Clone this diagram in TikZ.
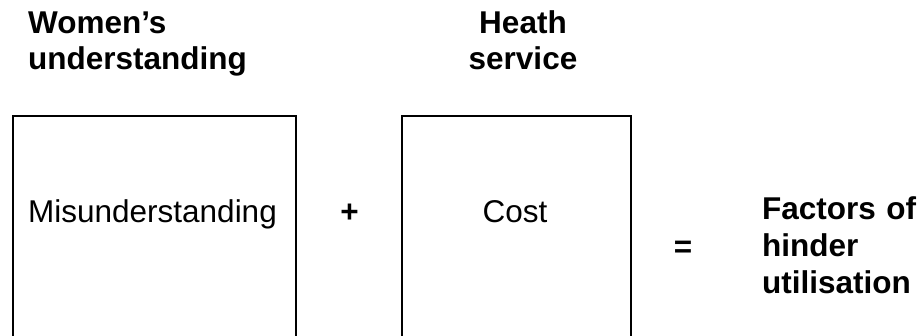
\documentclass[tikz,border=0pt]{standalone}
\usepackage{fontspec}
\setmainfont{Liberation Sans}
\begin{document}
\begin{tikzpicture}[x=1pt,y=-1pt,
  box/.style={draw=black,line width=2pt,inner sep=0pt,outer sep=0pt,rectangle},
  head/.style={font=\bfseries\fontsize{31.5}{36}\selectfont,inner sep=0pt,text width=#1},
  body/.style={font=\fontsize{31.5}{36}\selectfont,inner sep=0pt},
  sym/.style={font=\bfseries\fontsize{31.5}{36}\selectfont,inner sep=0pt}]
\clip (0,0) rectangle (919,335);
\useasboundingbox (0,0) rectangle (919,335);
% boxes
\node[box,minimum width=283pt,minimum height=264pt] (b1) at (154.5,248) {};
\node[box,minimum width=229pt,minimum height=264pt] (b2) at (516.5,248) {};
% headings
\node[head=250pt,align=left,anchor=base west] (h1) at (28,33) {Women’s\\understanding};
\node[head=200pt,align=center,anchor=base] (h2) at (523,33) {Heath\\service};
% box texts
\node[body,anchor=base] (t1) at (152.5,222) {Misunderstanding};
\node[body,anchor=base] (t2) at (515,222) {Cost};
% operators
\node[sym,anchor=base] (plus) at (349.5,222) {+};
\node[sym,anchor=base] (eq) at (683,257) {=};
% result
\node[font=\bfseries\fontsize{31.5}{37}\selectfont,inner sep=0pt,text width=200pt,align=left,anchor=base west] (res) at (762,219) {Factors of\\hinder\\utilisation};
\end{tikzpicture}
\end{document}
